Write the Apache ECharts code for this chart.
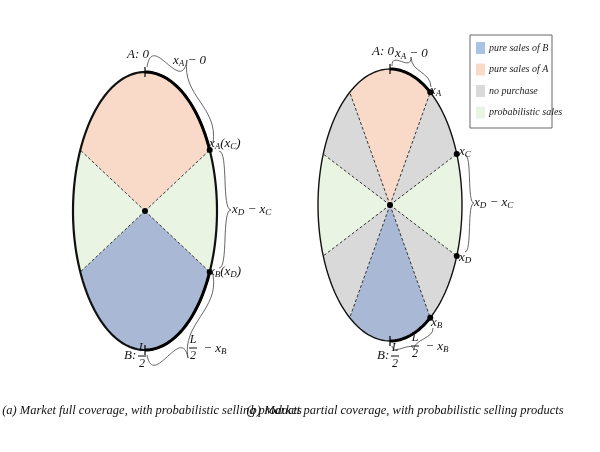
<!DOCTYPE html>
<html><head><meta charset="utf-8">
<script src="https://cdn.jsdelivr.net/npm/echarts@6/dist/echarts.min.js"></script>
<style>html,body{margin:0;background:#fff}#c{width:600px;height:452px}</style>
</head><body><div id="c"></div>
<script>
// segments in degrees, measured clockwise from the top point A
var leftSegments = [[-64, 64, 'A'], [64, 116, 'P'], [116, 244, 'B'], [244, 296, 'P']];
var rightSegments = [[-34, 34, 'A'], [34, 68, 'N'], [68, 112, 'P'], [112, 146, 'N'],
                     [146, 214, 'B'], [214, 248, 'N'], [248, 292, 'P'], [292, 326, 'N']];
var leftPoints = [64, 116];
var rightPoints = [34, 68, 112, 146];
var legendNames = ['pure sales of B', 'pure sales of A', 'no purchase', 'probabilistic sales'];
var captions = ['(a) Market full coverage, with probabilistic selling products',
                '(b) Market partial coverage, with probabilistic selling products'];

var colors = { A: '#f9dac8', B: '#a9b9d5', N: '#d9d9d9', P: '#e9f4e2' };
var legendColors = ['#a9c3e6', '#f9dac8', '#d9d9d9', '#e9f4e2'];
var E1 = { cx: 145, cy: 211, rx: 72, ry: 139 };
var E2 = { cx: 390, cy: 205, rx: 72, ry: 136 };

function pt(e, deg) {
  var t = deg * Math.PI / 180;
  return [e.cx + e.rx * Math.sin(t), e.cy - e.ry * Math.cos(t)];
}
function arc(e, a, b) {
  var p = [];
  for (var d = a; d <= b + 0.001; d += 2) p.push(pt(e, Math.min(d, b)));
  return p;
}
var els = [];
function sectors(e, segs, bold, outlineWidth) {
  segs.forEach(function (s) {
    els.push({ type: 'polygon', shape: { points: [[e.cx, e.cy]].concat(arc(e, s[0], s[1])) },
      style: { fill: colors[s[2]], stroke: null } });
  });
  segs.forEach(function (s) {
    els.push({ type: 'line', shape: { x1: e.cx, y1: e.cy, x2: pt(e, s[0])[0], y2: pt(e, s[0])[1] },
      style: { stroke: '#333', lineWidth: 1, lineDash: [3, 2] } });
  });
  els.push({ type: 'polyline', shape: { points: arc(e, 0, 360) }, style: { stroke: '#111', lineWidth: outlineWidth, fill: null } });
  bold.forEach(function (r) {
    els.push({ type: 'polyline', shape: { points: arc(e, r[0], r[1]) }, style: { stroke: '#000', lineWidth: 3, fill: null } });
  });
  els.push({ type: 'circle', shape: { cx: e.cx, cy: e.cy, r: 3 }, style: { fill: '#000' } });
  [0, 180].forEach(function (d) {
    var p = pt(e, d);
    els.push({ type: 'line', shape: { x1: p[0], y1: p[1] - 5, x2: p[0], y2: p[1] + 5 }, style: { stroke: '#000', lineWidth: 1.2 } });
  });
}
function dots(e, list) {
  list.forEach(function (d) {
    var p = pt(e, d);
    els.push({ type: 'circle', shape: { cx: p[0], cy: p[1], r: 3 }, style: { fill: '#000' } });
  });
}
function brace(p1, tip, p2) {
  var mid = [(p1[0] + p2[0]) / 2, (p1[1] + p2[1]) / 2];
  var n = [(tip[0] - mid[0]) / 2, (tip[1] - mid[1]) / 2];
  [p1, p2].forEach(function (p) {
    els.push({ type: 'bezierCurve', shape: { x1: p[0], y1: p[1], x2: tip[0], y2: tip[1],
      cpx1: p[0] + n[0] * 1.6, cpy1: p[1] + n[1] * 1.6, cpx2: tip[0] - n[0] * 1.6, cpy2: tip[1] - n[1] * 1.6 },
      style: { stroke: '#555', lineWidth: 0.9, fill: null } });
  });
}
var font = 'italic 12px "Liberation Serif", serif';
var rich = { x: { font: 'italic 13px "Liberation Serif", serif', fill: '#111' },
             s: { font: 'italic 9px "Liberation Serif", serif', fill: '#111', verticalAlign: 'bottom', padding: [6, 0, 0, 0] } };
function label(x, y, text) {
  els.push({ type: 'text', x: x, y: y, style: { text: text, rich: rich, font: font, fill: '#111', verticalAlign: 'middle' } });
}
function frac(x, y, prefix, suffix) {
  if (prefix) label(x - 14, y + 8, '{x|' + prefix + '}');
  els.push({ type: 'text', x: x + 4, y: y, style: { text: 'L', font: font, fill: '#111', align: 'center', verticalAlign: 'middle' } });
  els.push({ type: 'line', shape: { x1: x, y1: y + 8, x2: x + 8, y2: y + 8 }, style: { stroke: '#111', lineWidth: 1 } });
  els.push({ type: 'text', x: x + 4, y: y + 16, style: { text: '2', font: font, fill: '#111', align: 'center', verticalAlign: 'middle' } });
  if (suffix) label(x + 11, y + 9, suffix);
}

sectors(E1, leftSegments, [[0, 64], [116, 180]], 2.2);
sectors(E2, rightSegments, [[0, 34], [146, 180]], 1.4);
dots(E1, leftPoints);
dots(E2, rightPoints);

// left panel annotations
brace([147, 67], [187, 60], [213, 143]);
brace([219, 151], [231, 210], [219, 268]);
brace([147, 355], [188, 358], [213, 275]);
label(127, 55, '{x|A: 0}');
label(173, 61, '{x|x}{s|A}{x| − 0}');
label(209, 144, '{x|x}{s|A}{x|(x}{s|C}{x|)}');
label(232, 210, '{x|x}{s|D}{x| − x}{s|C}');
label(209, 272, '{x|x}{s|B}{x|(x}{s|D}{x|)}');
frac(189, 340, null, '{x| − x}{s|B}');
frac(138, 348, 'B:', null);

// right panel annotations
brace([392, 66], [411, 57], [431, 87]);
brace([465, 155], [474, 203], [465, 252]);
brace([392, 346], [414, 350], [433, 328]);
label(372, 52, '{x|A: 0}');
label(395, 54, '{x|x}{s|A} {x|− 0}');
label(430, 91, '{x|x}{s|A}');
label(459, 152, '{x|x}{s|C}');
label(474, 203, '{x|x}{s|D}{x| − x}{s|C}');
label(459, 258, '{x|x}{s|D}');
label(431, 323, '{x|x}{s|B}');
frac(411, 338, null, '{x| − x}{s|B}');
frac(391, 348, 'B:', null);

// legend
els.push({ type: 'rect', shape: { x: 470, y: 35, width: 82, height: 93 }, style: { fill: '#fff', stroke: '#666', lineWidth: 1 } });
legendNames.forEach(function (n, i) {
  var y = 48 + i * 21.5;
  els.push({ type: 'rect', shape: { x: 476, y: y - 6, width: 9, height: 12 }, style: { fill: legendColors[i] } });
  els.push({ type: 'text', x: 489, y: y, style: { text: n, font: 'italic 10px "Liberation Serif", serif', fill: '#222', verticalAlign: 'middle' } });
});
// captions
[152, 405].forEach(function (x, i) {
  els.push({ type: 'text', x: x, y: 411, style: { text: captions[i], font: 'italic 12.5px "Liberation Serif", serif', fill: '#111', align: 'center', verticalAlign: 'middle' } });
});

var chart = echarts.init(document.getElementById('c'));
chart.setOption({ backgroundColor: '#fff', animation: false, graphic: { elements: els } });
</script></body></html>
